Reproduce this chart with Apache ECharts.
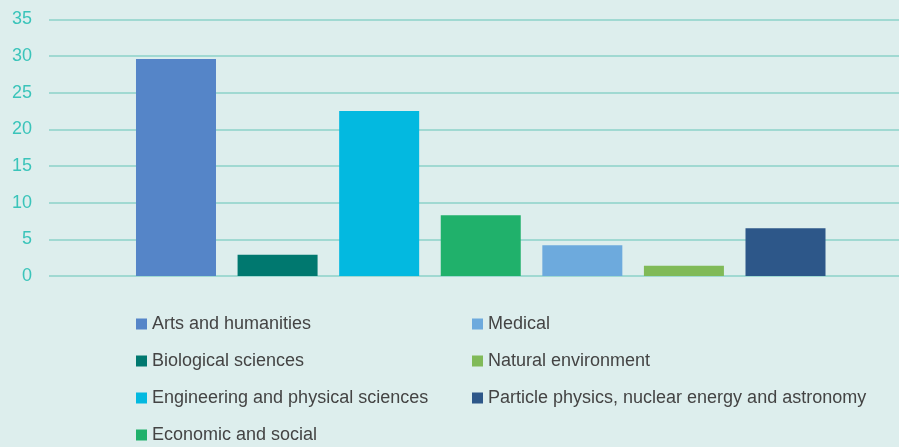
<!DOCTYPE html>
<html>
<head>
<meta charset="utf-8">
<script src="https://cdn.jsdelivr.net/npm/echarts@6/dist/echarts.min.js"></script>
<style>
html,body{margin:0;padding:0;background:#ddeeed;}
#chart{width:899px;height:447px;}
</style>
</head>
<body>
<div id="chart"></div>
<script>
const categories = ["Arts and humanities","Biological sciences","Engineering and physical sciences","Economic and social","Medical","Natural environment","Particle physics, nuclear energy and astronomy"];
const values = [29.6, 2.9, 22.5, 8.3, 4.2, 1.4, 6.5];
const colors = ["#5585c8","#00786f","#03b9e0","#20b16b","#6daadd","#80ba58","#2d5789"];
const yTicks = [0,5,10,15,20,25,30,35];

const chart = echarts.init(document.getElementById('chart'), null, {renderer:'canvas'});
const series = categories.map((name,i)=>({
  name: name,
  type: 'bar',
  xAxisIndex: 1,
  yAxisIndex: 1,
  stack: 'all',
  barWidth: 80,
  itemStyle: {color: colors[i]},
  data: categories.map((c,j)=> j===i ? values[i] : null)
}));
const legendText = {fontFamily:'Liberation Sans, Arial, sans-serif', fontSize:18, color:'#444444', lineHeight:20};
chart.setOption({
  backgroundColor: '#ddeeed',
  animation: false,
  grid: [
    {left:49, right:0, top:19.5, bottom:171},
    {left:125.2, right:62.7, top:19.5, bottom:171}
  ],
  xAxis: [
    {gridIndex:0, type:'category', data:[''], show:false},
    {gridIndex:1, type:'category', data:categories, show:false}
  ],
  yAxis: [
    {gridIndex:0, type:'value', min:yTicks[0], max:yTicks[yTicks.length-1], interval:5,
     axisLine:{show:false}, axisTick:{show:false},
     axisLabel:{color:'#3ac4ba', fontSize:18, fontFamily:'Liberation Sans, Arial, sans-serif', margin:17},
     splitLine:{lineStyle:{color:'#a0d9d2', width:2}}},
    {gridIndex:1, type:'value', min:yTicks[0], max:yTicks[yTicks.length-1], interval:5, show:false, splitLine:{show:false}}
  ],
  legend: [
    {data: categories.slice(0,4), orient:'vertical', left:136, top:314, padding:0,
     itemWidth:11, itemHeight:11, itemGap:17, icon:'rect', textStyle:legendText, selectedMode:false},
    {data: categories.slice(4), orient:'vertical', left:472, top:314, padding:0,
     itemWidth:11, itemHeight:11, itemGap:17, icon:'rect', textStyle:legendText, selectedMode:false}
  ],
  series: series
});
</script>
</body>
</html>
